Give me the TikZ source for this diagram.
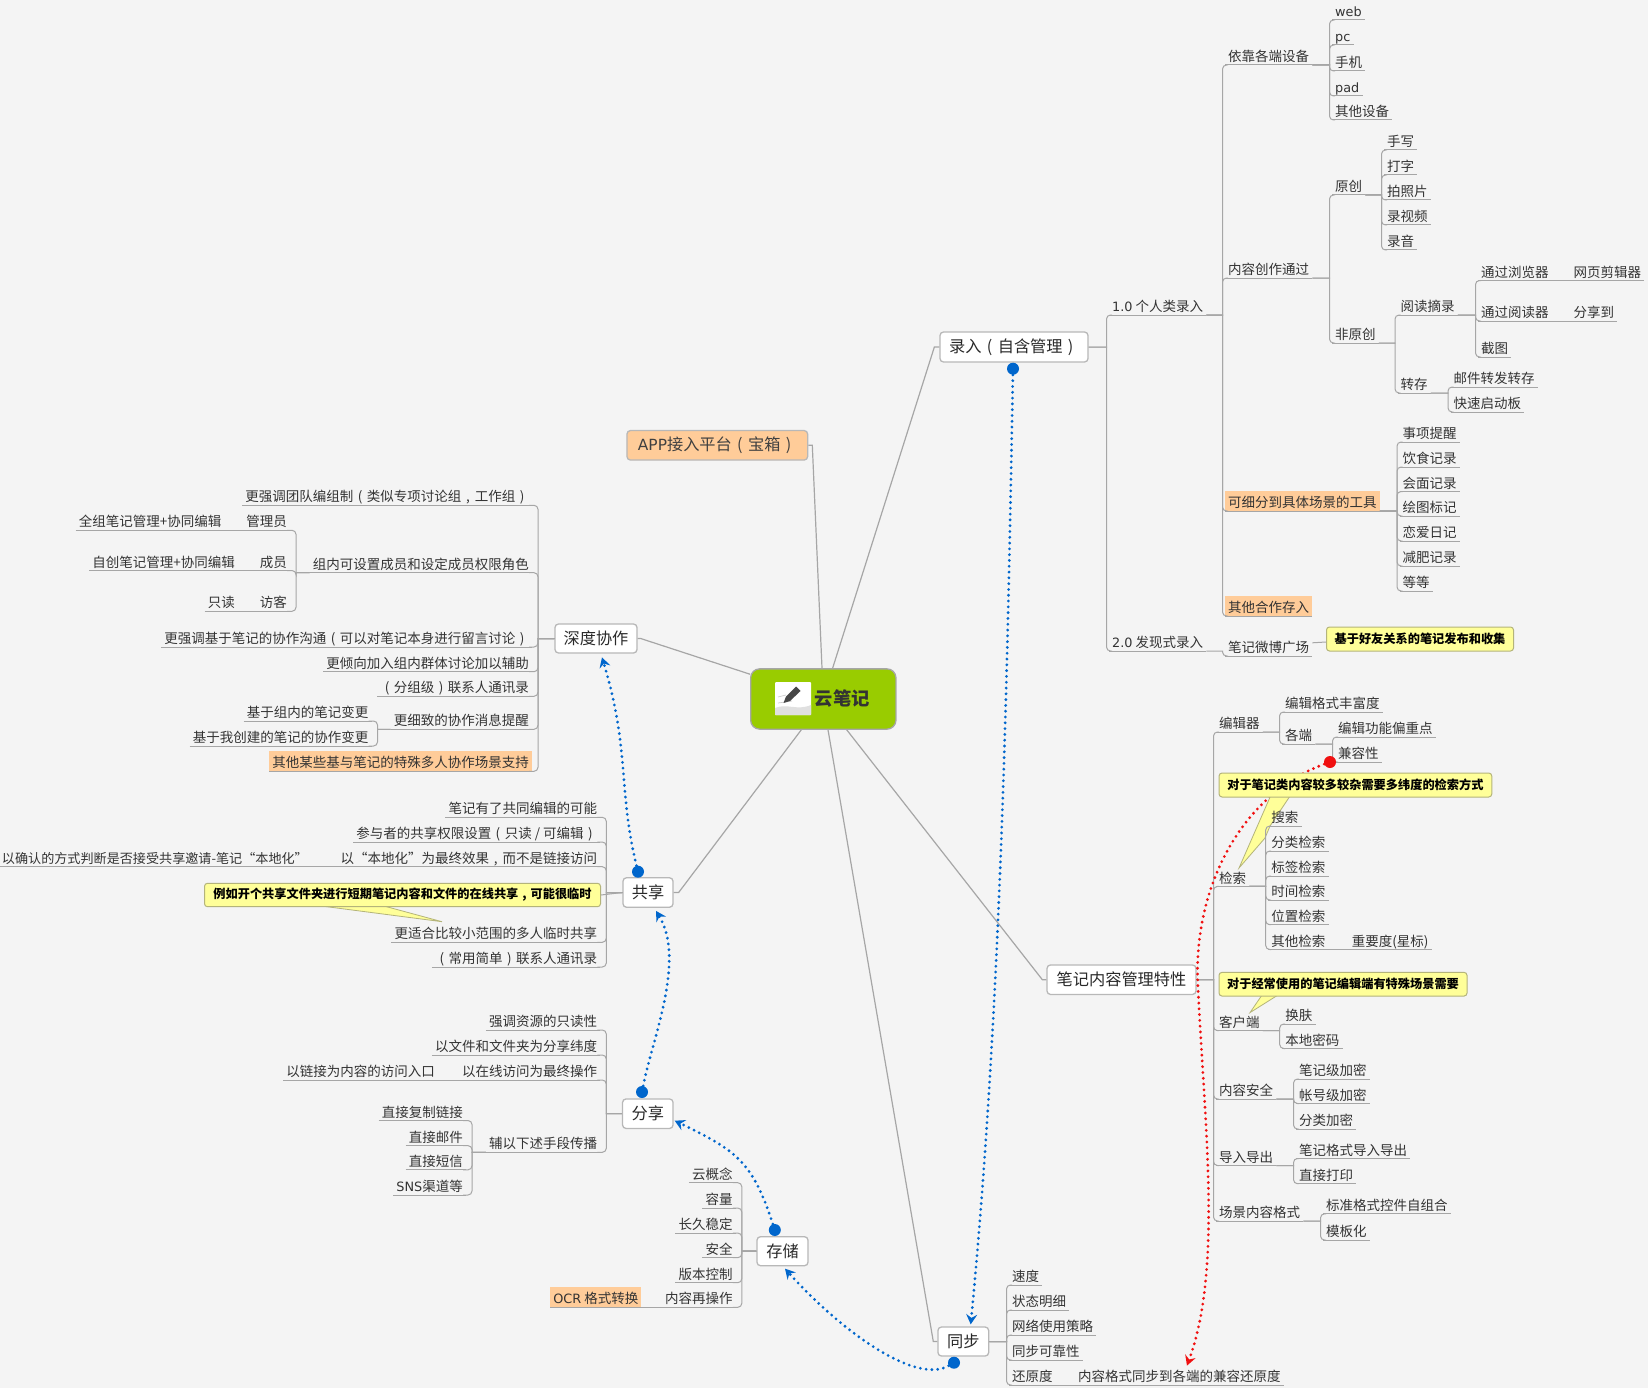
\documentclass[tikz,border=0pt]{standalone}
\usepackage{fontspec}
\setmainfont{Noto Sans CJK SC}
\newfontfamily\lat{DejaVu Sans}[Scale=0.95]
\usetikzlibrary{arrows.meta,calc}
\newcommand\lpar{\makebox[1em]{(}}
\newcommand\rpar{\makebox[1em]{)}}
\newcommand\cjkcomma{\makebox[1em]{,}}
\definecolor{paper}{HTML}{F4F4F4}
\definecolor{ink}{HTML}{333333}
\definecolor{linegray}{HTML}{A6A6A6}
\definecolor{hlorange}{HTML}{FFCC99}
\definecolor{noteyellow}{HTML}{FFFF99}
\definecolor{noteedge}{HTML}{B4B47A}
\definecolor{rootgreen}{HTML}{99CC00}
\definecolor{linkblue}{HTML}{0066CC}
\definecolor{linkred}{HTML}{F01010}
\tikzset{
  x=1pt,y=-1pt,
  topic/.style={inner xsep=3pt,inner ysep=1pt,text height=15.8pt,text depth=2.2pt,
    text=ink,font=\fontsize{13.5}{15}\selectfont,
    append after command={(\tikzlastnode.south west) edge[draw=linegray,line width=1pt] (\tikzlastnode.south east)}},
  rt/.style={topic,anchor=south west,xshift=-3pt},
  lt/.style={topic,anchor=south east,xshift=3pt},
  hl/.style={fill=hlorange},
  mainbox/.style={draw=linegray!80,line width=1.3pt,fill=white,rounded corners=3.5pt,inner sep=0pt,
    text=ink!80!black,font=\fontsize{16.2}{18}\selectfont,minimum height=29.5pt},
  notebox/.style={draw=noteedge,line width=1pt,fill=noteyellow,rounded corners=3pt,inner sep=0pt,
    text=black,font=\fontsize{12.2}{14}\selectfont\bfseries},
  notetail/.style={draw=noteedge,line width=.8pt,fill=noteyellow},
  mainline/.style={draw=linegray,line width=1.2pt},
  plainlink/.style={draw=linegray,line width=1pt},
  kr/.style={draw=linegray,line width=1pt,
    to path={-- ([xshift=-2.5pt]\tikztotarget |- \tikztostart) [rounded corners=4pt]
      -- ([xshift=-2.5pt]\tikztotarget) -- ([xshift=3pt]\tikztotarget)}},
  kl/.style={draw=linegray,line width=1pt,
    to path={-- ([xshift=6pt]\tikztotarget |- \tikztostart) [rounded corners=4pt]
      -- ([xshift=6pt]\tikztotarget) -- ([xshift=-3pt]\tikztotarget)}},
  dotlink/.style={line width=3.1pt,line cap=round,dash pattern=on 0pt off 5.8pt},
  bluelink/.style={dotlink,draw=linkblue,-{Stealth[inset=3.5pt,length=10pt,width=11pt]}},
  redlink/.style={dotlink,draw=linkred,-{Stealth[inset=3.5pt,length=10pt,width=11pt]}},
  bluedot/.style={circle,fill=linkblue,inner sep=0pt,minimum size=12pt},
  reddot/.style={circle,fill=linkred,inner sep=0pt,minimum size=12pt},
}
\begin{document}
\begin{tikzpicture}
\useasboundingbox (0,0) rectangle (1648,1388);
\fill[paper] (0,0) rectangle (1648,1388);

% root and main topics
\node[draw=linegray,line width=1.3pt,fill=rootgreen,rounded corners=9pt,minimum width=145.3pt,minimum height=60.3pt,inner sep=0pt,
  text=black!80,font=\fontsize{18.3}{20}\selectfont\bfseries] (ctr) at (823.3,699) {\hspace*{38pt}云笔记};
\node[mainbox,minimum width=148pt,minimum height=30pt] (rec) at (1014,347) {录入\lpar 自含管理\rpar};
\node[mainbox,fill=hlorange,text=black!75,minimum width=180.7pt] (app) at (717.3,445.3) {{\lat APP}接入平台\lpar 宝箱\rpar};
\node[mainbox,minimum width=82pt,minimum height=29pt] (deep) at (596,638.5) {深度协作};
\node[mainbox,minimum width=50pt] (gx) at (648,892.5) {共享};
\node[mainbox,minimum width=50.5pt] (fx) at (647.8,1113.7) {分享};
\node[mainbox,minimum width=51pt,minimum height=29pt] (cc) at (782.5,1251.2) {存储};
\node[mainbox,minimum width=50.7pt,minimum height=29pt] (sync) at (963.3,1341.5) {同步};
\node[mainbox,minimum width=149pt] (mgmt) at (1121.5,979.7) {笔记内容管理特性};

\draw[mainline] (app.east) -- ++(4,0) -- ([xshift=-1.3pt]ctr.north);
\draw[mainline] (rec.west) -- ++(-5,0) -- ([xshift=9.3pt]ctr.north);
\draw[mainline] (deep.east) -- ++(3,0) -- ([yshift=-6pt]ctr.north west);
\draw[mainline] (gx.east) -- ++(5,0) -- ([xshift=-22pt]ctr.south);
\draw[mainline] (sync.west) -- ++(-4,0) -- ([xshift=4.7pt]ctr.south);
\draw[mainline] (mgmt.west) -- ++(-4,0) -- ([xshift=23.4pt]ctr.south);

% notebook icon inside the root topic
\fill[white,rounded corners=1pt] (775,682) rectangle (811,715);
\fill[black!12] (775,708) .. controls (787,703) and (797,711) .. (811,705) -- (811,715) -- (775,715) -- cycle;
\draw[black!20,line width=.7pt] (778,697) -- (786,695) (778,703) -- (792,701);
\fill[black!72] (796,686.5) -- (800.5,691) -- (790,701) -- (783.5,703) -- (786,696.5) -- cycle;

% record branch
\node[rt] (t1) at (1112,315) {{\lat 1.0} 个人类录入};
\node[rt] (t2) at (1112,651) {{\lat 2.0} 发现式录入};
\path (rec.east) edge[kr] (t1.south west) edge[kr] (t2.south west);

\node[rt] (a1) at (1228,65) {依靠各端设备};
\node[rt] (a2) at (1228,278) {内容创作通过};
\node[rt,hl] (a3) at (1228,511) {可细分到具体场景的工具};
\node[rt,hl] (a4) at (1228,616) {其他合作存入};
\path (t1.south east) edge[kr] (a1.south west) edge[kr] (a2.south west) edge[kr] (a3.south west) edge[kr] (a4.south west);

\node[rt] (wb) at (1228,656) {笔记微博广场};
\path (t2.south east) edge[kr] (wb.south west);

\node[rt] (d1) at (1335,20) {{\lat web}};
\node[rt] (d2) at (1335,45) {{\lat pc}};
\node[rt] (d3) at (1335,71) {手机};
\node[rt] (d4) at (1335,96) {{\lat pad}};
\node[rt] (d5) at (1335,120) {其他设备};
\path (a1.south east) edge[kr] (d1.south west) edge[kr] (d2.south west) edge[kr] (d3.south west) edge[kr] (d4.south west) edge[kr] (d5.south west);

\node[rt] (yc) at (1335,195) {原创};
\node[rt] (fy) at (1335,343) {非原创};
\path (a2.south east) edge[kr] (yc.south west) edge[kr] (fy.south west);

\node[rt] (y1) at (1387,150) {手写};
\node[rt] (y2) at (1387,175) {打字};
\node[rt] (y3) at (1387,200) {拍照片};
\node[rt] (y4) at (1387,225) {录视频};
\node[rt] (y5) at (1387,250) {录音};
\path (yc.south east) edge[kr] (y1.south west) edge[kr] (y2.south west) edge[kr] (y3.south west) edge[kr] (y4.south west) edge[kr] (y5.south west);

\node[rt] (rd) at (1400.5,315) {阅读摘录};
\node[rt] (zc) at (1400.5,393) {转存};
\path (fy.south east) edge[kr] (rd.south west) edge[kr] (zc.south west);

\node[rt] (r1) at (1481,280.5) {通过浏览器};
\node[rt] (r2) at (1481,321) {通过阅读器};
\node[rt] (r3) at (1481,357) {截图};
\path (rd.south east) edge[kr] (r1.south west) edge[kr] (r2.south west) edge[kr] (r3.south west);
\node[rt] (r1a) at (1573.5,280.5) {网页剪辑器};
\node[rt] (r2a) at (1573.5,321) {分享到};
\draw[plainlink] (r1.south east) -- (r1a.south west);
\draw[plainlink] (r2.south east) -- (r2a.south west);

\node[rt] (z1) at (1453.5,387) {邮件转发转存};
\node[rt] (z2) at (1453.5,412) {快速启动板};
\path (zc.south east) edge[kr] (z1.south west) edge[kr] (z2.south west);

\node[rt] (s1) at (1402.5,442) {事项提醒};
\node[rt] (s2) at (1402.5,467) {饮食记录};
\node[rt] (s3) at (1402.5,491.5) {会面记录};
\node[rt] (s4) at (1402.5,516) {绘图标记};
\node[rt] (s5) at (1402.5,541) {恋爱日记};
\node[rt] (s6) at (1402.5,566) {减肥记录};
\node[rt] (s7) at (1402.5,591) {等等};
\path (a3.south east) edge[kr] (s1.south west) edge[kr] (s2.south west) edge[kr] (s3.south west) edge[kr] (s4.south west) edge[kr] (s5.south west) edge[kr] (s6.south west) edge[kr] (s7.south west);

% note content management branch
\node[rt] (m1) at (1219,732) {编辑器};
\node[rt] (m2) at (1219,886.4) {检索};
\node[rt] (m3) at (1219,1030.6) {客户端};
\node[rt] (m4) at (1219,1099) {内容安全};
\node[rt] (m5) at (1219,1165.5) {导入导出};
\node[rt] (m6) at (1219,1221) {场景内容格式};
\path (mgmt.east) edge[kr] (m1.south west) edge[kr] (m2.south west) edge[kr] (m3.south west) edge[kr] (m4.south west) edge[kr] (m5.south west) edge[kr] (m6.south west);

\node[rt] (e1) at (1285,712) {编辑格式丰富度};
\node[rt] (e2) at (1285,744) {各端};
\path (m1.south east) edge[kr] (e1.south west) edge[kr] (e2.south west);
\node[rt] (e3) at (1338,737) {编辑功能偏重点};
\node[rt] (e4) at (1338,762) {兼容性};
\path (e2.south east) edge[kr] (e3.south west) edge[kr] (e4.south west);

\node[rt] (q2) at (1271.2,851) {分类检索};
\node[rt] (q3) at (1271.2,876) {标签检索};
\node[rt] (q4) at (1271.2,900) {时间检索};
\node[rt] (q5) at (1271.2,924.7) {位置检索};
\node[rt] (q6) at (1271.2,949.5) {其他检索};
\path (m2.south east) edge[kr] (q2.south west) edge[kr] (q3.south west) edge[kr] (q4.south west) edge[kr] (q5.south west) edge[kr] (q6.south west);
\node[rt] (q6a) at (1351.7,949.5) {重要度(星标)};
\draw[plainlink] (q6.south east) -- (q6a.south west);

\node[rt] (c1) at (1285.2,1024) {换肤};
\node[rt] (c2) at (1285.2,1048.5) {本地密码};
\path (m3.south east) edge[kr] (c1.south west) edge[kr] (c2.south west);

\node[rt] (k1) at (1299,1079) {笔记级加密};
\node[rt] (k2) at (1299,1103.5) {帐号级加密};
\node[rt] (k3) at (1299,1129) {分类加密};
\path (m4.south east) edge[kr] (k1.south west) edge[kr] (k2.south west) edge[kr] (k3.south west);

\node[rt] (p1) at (1299,1158.5) {笔记格式导入导出};
\node[rt] (p2) at (1299,1183.7) {直接打印};
\path (m5.south east) edge[kr] (p1.south west) edge[kr] (p2.south west);

\node[rt] (g1) at (1326,1213.8) {标准格式控件自组合};
\node[rt] (g2) at (1326,1240) {模板化};
\path (m6.south east) edge[kr] (g1.south west) edge[kr] (g2.south west);

% sync branch
\node[rt] (n1) at (1012,1285) {速度};
\node[rt] (n2) at (1012,1310) {状态明细};
\node[rt] (n3) at (1012,1335) {网络使用策略};
\node[rt] (n4) at (1012,1360) {同步可靠性};
\node[rt] (n5) at (1012,1385) {还原度};
\path (sync.east) edge[kr] (n1.south west) edge[kr] (n2.south west) edge[kr] (n3.south west) edge[kr] (n4.south west) edge[kr] (n5.south west);
\node[rt] (n5a) at (1078,1385) {内容格式同步到各端的兼容还原度};
\draw[plainlink] (n5.south east) -- (n5a.south west);

% deep collaboration branch
\node[lt] (h1) at (529,505.3) {更强调团队编组制\lpar 类似专项讨论组\cjkcomma 工作组\rpar};
\node[lt] (h2) at (529,572.7) {组内可设置成员和设定成员权限角色};
\node[lt] (h3) at (529,647) {更强调基于笔记的协作沟通\lpar 可以对笔记本身进行留言讨论\rpar};
\node[lt] (h4) at (529,671.7) {更倾向加入组内群体讨论加以辅助};
\node[lt] (h5) at (529,696.3) {\lpar 分组级\rpar 联系人通讯录};
\node[lt] (h6) at (529,729.3) {更细致的协作消息提醒};
\node[lt,hl] (h7) at (529,771.3) {其他某些基与笔记的特殊多人协作场景支持};
\path (deep.west) edge[kl] (h1.south east) edge[kl] (h2.south east) edge[kl] (h3.south east) edge[kl] (h4.south east) edge[kl] (h5.south east) edge[kl] (h6.south east) edge[kl] (h7.south east);

\node[lt] (u1) at (287,530.3) {管理员};
\node[lt] (u2) at (287,570.5) {成员};
\node[lt] (u3) at (287,611.3) {访客};
\path (h2.south west) edge[kl] (u1.south east) edge[kl] (u2.south east) edge[kl] (u3.south east);
\node[lt] (u1a) at (221.5,530.3) {全组笔记管理+协同编辑};
\node[lt] (u2a) at (235,570.5) {自创笔记管理+协同编辑};
\node[lt] (u3a) at (235,611.3) {只读};
\draw[plainlink] (u1.south west) -- (u1a.south east);
\draw[plainlink] (u2.south west) -- (u2a.south east);
\draw[plainlink] (u3.south west) -- (u3a.south east);

\node[lt] (v1) at (368.5,721) {基于组内的笔记变更};
\node[lt] (v2) at (368.5,746) {基于我创建的笔记的协作变更};
\path (h6.south west) edge[kl] (v1.south east) edge[kl] (v2.south east);

% share-with-people branch
\node[lt] (w1) at (597.3,817.3) {笔记有了共同编辑的可能};
\node[lt] (w2) at (597.3,842) {参与者的共享权限设置\lpar 只读 / 可编辑\rpar};
\node[lt] (w3) at (597.3,866.7) {以“本地化”为最终效果\cjkcomma 而不是链接访问};
\node[lt] (w5) at (597.3,942.3) {更适合比较小范围的多人临时共享};
\node[lt] (w6) at (597.3,967) {\lpar 常用简单\rpar 联系人通讯录};
\path (gx.west) edge[kl] (w1.south east) edge[kl] (w2.south east) edge[kl] (w3.south east) edge[kl] (w5.south east) edge[kl] (w6.south east);
\node[lt,font=\fontsize{13.1}{15}\selectfont] (w3a) at (308,866.7) {以确认的方式判断是否接受共享邀请-笔记“本地化”};
\draw[plainlink] (w3.south west) -- (w3a.south east);

% publish branch
\node[lt] (f1) at (597.3,1030) {强调资源的只读性};
\node[lt] (f2) at (597.3,1055) {以文件和文件夹为分享纬度};
\node[lt] (f3) at (597.3,1080) {以在线访问为最终操作};
\node[lt] (f4) at (597.3,1152.3) {辅以下述手段传播};
\path (fx.west) edge[kl] (f1.south east) edge[kl] (f2.south east) edge[kl] (f3.south east) edge[kl] (f4.south east);
\node[lt] (f3a) at (435,1080) {以链接为内容的访问入口};
\draw[plainlink] (f3.south west) -- (f3a.south east);
\node[lt] (l1) at (463,1120.5) {直接复制链接};
\node[lt] (l2) at (463,1145.6) {直接邮件};
\node[lt] (l3) at (463,1169.8) {直接短信};
\node[lt] (l4) at (463,1195) {{\lat SNS}渠道等};
\path (f4.south west) edge[kl] (l1.south east) edge[kl] (l2.south east) edge[kl] (l3.south east) edge[kl] (l4.south east);

% storage branch
\node[lt] (o1) at (732.8,1182.7) {云概念};
\node[lt] (o2) at (732.8,1208) {容量};
\node[lt] (o3) at (732.8,1233) {长久稳定};
\node[lt] (o4) at (732.8,1257.7) {安全};
\node[lt] (o5) at (732.8,1282.7) {版本控制};
\node[lt] (o6) at (732.8,1307.3) {内容再操作};
\path (cc.west) edge[kl] (o1.south east) edge[kl] (o2.south east) edge[kl] (o3.south east) edge[kl] (o4.south east) edge[kl] (o5.south east) edge[kl] (o6.south east);
\node[lt,hl] (o6a) at (638.5,1307.3) {{\lat OCR} 格式转换};
\draw[plainlink] (o6.south west) -- (o6a.south east);

% dotted relationships
\node[bluedot] (b1) at (1013,368.7) {};
\node[bluedot] (b2) at (954,1362.7) {};
\node[bluedot] (b3) at (774.8,1230) {};
\node[bluedot] (b4) at (642,1092) {};
\node[bluedot] (b5) at (638,871.7) {};
\node[reddot] (b6) at (1330,762) {};
\draw[bluelink] (b1) .. controls (1008,640) and (1002,1000) .. ([xshift=7.4pt,yshift=2pt]sync.north);
\draw[bluelink] (b2) .. controls (915,1385) and (840,1330) .. ([xshift=2.5pt,yshift=-2.3pt]cc.south);
\draw[bluelink] (b3) .. controls (752,1160) and (735,1150) .. ([xshift=1pt,yshift=-7pt]fx.east);
\draw[bluelink] (b4) .. controls (652,1040) and (686,960) .. ([xshift=8pt,yshift=-3pt]gx.south);
\draw[bluelink] (b5) .. controls (618,790) and (630,750) .. ([xshift=6pt,yshift=-3.7pt]deep.south);
\draw[redlink] (b6) .. controls (1240,795) and (1192,890) .. (1198,988)
  .. controls (1205,1130) and (1222,1270) .. ([xshift=7.5pt,yshift=-1pt]n5a.north);

% note callouts
\node[notebox,minimum width=187pt,minimum height=24pt] (call1) at (1420,639) {基于好友关系的笔记发布和收集};
\draw[plainlink] ([yshift=3pt]wb.east) -- ([yshift=-3pt]call1.west);
\draw[notetail] (1270.5,796) -- (1239,868) -- (1265,838) -- (1270,826) -- (1290,796) -- cycle;
\node[notebox,minimum width=272.7pt,minimum height=24pt] (call2) at (1355.4,785) {对于笔记类内容较多较杂需要多纬度的检索方式};
\draw[notetail] (1262,995) -- (1250,1012.6) -- (1278,995) -- cycle;
\node[notebox,minimum width=248pt,minimum height=23.7pt] (call3) at (1343,984.2) {对于经常使用的笔记编辑端有特殊场景需要};
\draw[notetail] (321.4,906) -- (442,921.7) -- (384,906) -- cycle;
\node[notebox,minimum width=396pt,minimum height=23.4pt] (call4) at (402.5,895) {例如开个共享文件夹进行短期笔记内容和文件的在线共享\cjkcomma 可能很临时};
\draw[plainlink] (gx.west) -- (call4.east);

% first search entry sits on top of the callout tail
\node[rt] (q1) at (1271.2,826) {搜索};
\path (m2.south east) edge[kr] (q1.south west);
\end{tikzpicture}
\end{document}
